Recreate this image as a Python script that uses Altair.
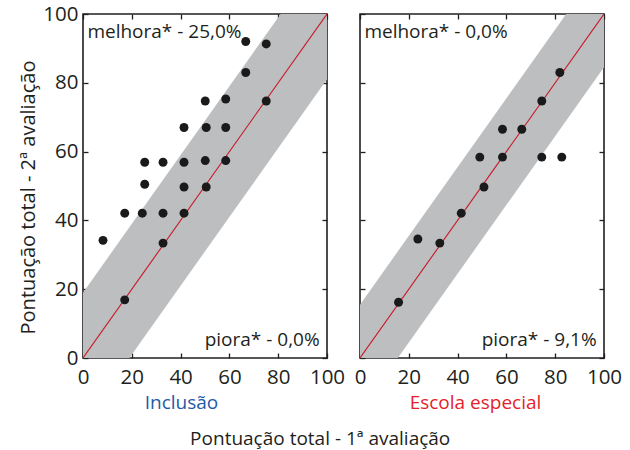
import altair as alt
import pandas as pd

# ---- data ----
left_x = [8.2, 17.1, 17.1, 24.3, 25.3, 25.3, 32.8, 32.8, 32.8, 41.4, 41.4, 41.4, 41.4,
          50.1, 50.5, 50.1, 50.5, 58.5, 58.5, 58.5, 66.7, 66.7, 75.1, 75.1]
left_y = [34.2, 16.9, 42.1, 42.1, 50.5, 56.9, 56.9, 42.1, 33.4, 67.0, 56.9, 49.7, 42.1,
          74.7, 67.0, 57.4, 49.7, 75.3, 67.0, 57.4, 92.0, 83.0, 91.3, 74.7]
right_x = [15.8, 23.7, 32.7, 41.5, 50.8, 49.1, 58.4, 58.4, 66.3, 74.5, 81.9, 74.5, 82.7]
right_y = [16.2, 34.6, 33.4, 42.1, 49.7, 58.4, 58.4, 66.5, 66.5, 74.7, 83.0, 58.4, 58.4]

line_x = [0, 100]
left_half_band = 19.0
right_half_band = 15.5
tick_values = [0, 20, 40, 60, 80, 100]

left_labels = ["melhora* - 25,0%", "piora* - 0,0%"]
right_labels = ["melhora* - 0,0%", "piora* - 9,1%"]
group_names = ["Inclusão", "Escola especial"]
x_title = "Pontuação total - 1ª avaliação"
y_title = "Pontuação total - 2ª avaliação"

FONT = "Open Sans"
INK = "#231f20"
W, H = 244, 344


def panel(xs, ys, half, labels, group, group_color, title_x, show_y):
    pts = pd.DataFrame({"x": xs, "y": ys})
    band = pd.DataFrame({"x": line_x,
                         "lo": [v - half for v in line_x],
                         "hi": [v + half for v in line_x]})
    ident = pd.DataFrame({"x": line_x, "y": line_x})
    top_txt = pd.DataFrame({"x": [1.8], "y": [93.0], "t": [labels[0]]})
    bot_txt = pd.DataFrame({"x": [97.0], "y": [3.4], "t": [labels[1]]})

    sx = alt.Scale(domain=[0, 100], nice=False, zero=False)
    sy = alt.Scale(domain=[0, 100], nice=False, zero=False)

    common = dict(values=tick_values, domain=False, grid=False, offset=-5, tickSize=5,
                  tickColor=INK, tickWidth=1.3, labelFont=FONT, labelFontSize=20.5,
                  labelColor=INK, labelFlush=False, labelOverlap=False)

    x_bottom = alt.Axis(orient="bottom", labelPadding=9, title=group,
                        titleColor=group_color, titleFont=FONT, titleFontSize=19,
                        titleFontWeight="normal", titleX=title_x, titleAlign="center",
                        titlePadding=6, **common)
    if show_y:
        y_left = alt.Axis(orient="left", labelPadding=5, title=y_title, titleColor=INK,
                          titleFont=FONT, titleFontSize=20, titleFontWeight="normal",
                          titlePadding=4, titleY=183, **common)
    else:
        y_left = alt.Axis(orient="left", labels=False, title=None, **common)
    x_top = alt.Axis(orient="top", labels=False, title=None, **common)
    y_right = alt.Axis(orient="right", labels=False, title=None, **common)

    band_l = alt.Chart(band).mark_area(color="#bcbec0", clip=True).encode(
        x=alt.X("x:Q", scale=sx, axis=None),
        y=alt.Y("lo:Q", scale=sy, axis=None),
        y2="hi:Q")
    line_l = alt.Chart(ident).mark_line(color="#c8182a", strokeWidth=1.1, clip=True).encode(
        x=alt.X("x:Q", scale=sx, axis=x_top),
        y=alt.Y("y:Q", scale=sy, axis=y_right))
    pts_l = alt.Chart(pts).mark_circle(size=80, color="#1a1a1a", opacity=1).encode(
        x=alt.X("x:Q", scale=sx, axis=x_bottom),
        y=alt.Y("y:Q", scale=sy, axis=y_left))
    t1 = alt.Chart(top_txt).mark_text(align="left", baseline="alphabetic", font=FONT,
                                      fontSize=19, color=INK).encode(
        x=alt.X("x:Q", scale=sx, axis=None), y=alt.Y("y:Q", scale=sy, axis=None), text="t:N")
    t2 = alt.Chart(bot_txt).mark_text(align="right", baseline="alphabetic", font=FONT,
                                      fontSize=19, color=INK).encode(
        x=alt.X("x:Q", scale=sx, axis=None), y=alt.Y("y:Q", scale=sy, axis=None), text="t:N")

    return alt.layer(band_l, line_l, pts_l, t1, t2).resolve_axis(
        x="independent", y="independent").properties(width=W, height=H)


left = panel(left_x, left_y, left_half_band, left_labels, group_names[0], "#1f5aa8", 98, True)
right = panel(right_x, right_y, right_half_band, right_labels, group_names[1], "#e31e2d", 115, False)

chart = alt.hconcat(left, right, spacing=33, bounds="flush").properties(
    title=alt.TitleParams(x_title, orient="bottom", anchor="middle", font=FONT, fontSize=19,
                          fontWeight="normal", color=INK, offset=17),
    padding={"left": 18, "top": 3, "right": 5, "bottom": 0},
).configure_view(stroke=INK, strokeWidth=1.6)

chart.save("out.html", embed_options={"renderer": "svg", "actions": False})
